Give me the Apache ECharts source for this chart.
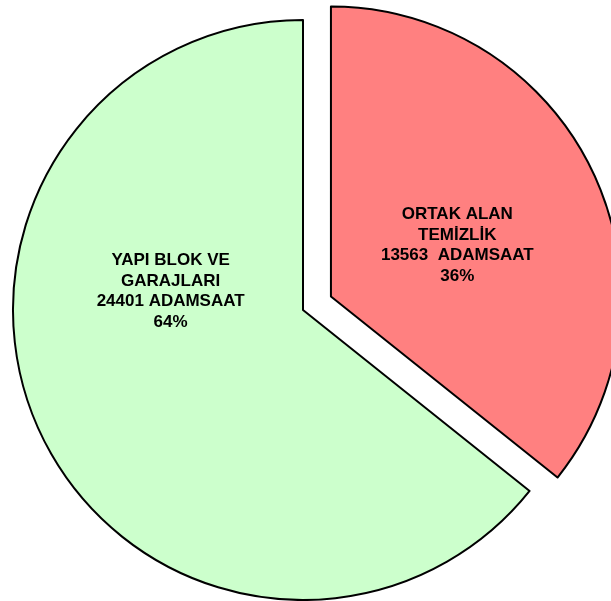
<!DOCTYPE html>
<html lang="tr">
<head>
    <meta charset="UTF-8">
    <title>Adamsaat</title>
    <script type="text/javascript" src="https://cdn.jsdelivr.net/npm/echarts@6/dist/echarts.min.js"></script>
    <style>
        html, body { margin: 0; padding: 0; background: #ffffff; }
        #main { width: 611px; height: 601px; }
    </style>
</head>
<body>
<div id="main"></div>
<script type="text/javascript">
    // dilimler: saat yönünde, tepeden başlayarak
    var names = ['ORTAK ALAN\nTEMİZLİK', 'YAPI BLOK VE\nGARAJLARI'];
    var values = [13563, 24401];
    var valueSep = ['  ', ' '];
    var colors = ['#ff8080', '#ccffcc'];
    var exploded = [true, false];
    var labelShift = [[-7, 13], [1, -83]];

    var pieData = [];
    for (var i = 0; i < names.length; i++) {
        pieData.push({
            name: names[i],
            value: values[i],
            selected: exploded[i],
            itemStyle: { color: colors[i] },
            label: { offset: labelShift[i] },
            select: { label: { offset: labelShift[i] } }
        });
    }

    var myChart = echarts.init(document.getElementById('main'));
    myChart.setOption({
        animation: false,
        series: [{
            type: 'pie',
            center: [303, 310],
            radius: [0, 290],
            startAngle: 90,
            clockwise: true,
            selectedMode: 'multiple',
            selectedOffset: 31,
            percentPrecision: 0,
            silent: true,
            itemStyle: {
                borderColor: '#000000',
                borderWidth: 2
            },
            label: {
                show: true,
                position: 'inside',
                color: '#000000',
                fontFamily: 'Liberation Sans, Arial, sans-serif',
                fontWeight: 'bold',
                fontSize: 17,
                lineHeight: 20.5,
                align: 'center',
                formatter: function (p) {
                    return p.name + '\n' + p.value + valueSep[p.dataIndex] + 'ADAMSAAT\n' + p.percent + '%';
                }
            },
            labelLine: { show: false },
            emphasis: { disabled: true },
            data: pieData
        }]
    });
</script>
</body>
</html>
